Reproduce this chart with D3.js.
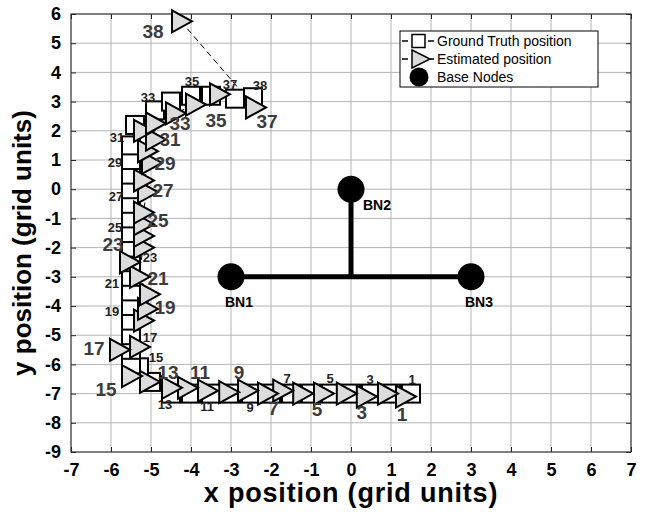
<!DOCTYPE html>
<html><head><meta charset="utf-8">
<script src="https://cdn.jsdelivr.net/npm/d3@7"></script>
<style>
html,body{margin:0;padding:0;background:#fff;}
svg{display:block;font-family:"Liberation Sans",Arial,Helvetica,sans-serif;}
</style></head>
<body>
<svg id="chart" width="646" height="515"></svg>
<script>
// ---- data ----
const pointIds = d3.range(1, 39);
const truthX = [1.5,1,0.5,0,-0.5,-1,-1.5,-2,-2.5,-3,-3.5,-4,-4.5,-5,-5.3,-5.5,-5.5,-5.5,-5.5,-5.5,-5.5,-5.5,-5.5,-5.5,-5.5,-5.5,-5.5,-5.5,-5.5,-5.5,-5.5,-5.4,-4.9,-4.5,-4,-3.5,-2.9,-2.45];
const truthY = [-7,-7,-7,-7,-7,-7,-7,-7,-7,-7,-7,-7,-7,-6.6,-6.1,-6,-5.5,-5,-4.5,-4,-3.5,-3,-2.5,-2,-1.5,-1,-0.5,0,0.5,1,1.5,2.2,2.7,3,3.2,3.2,3.1,3.15];
const estX = [1.35,0.9,0.37,-0.13,-0.7,-1.22,-1.72,-2.1,-2.6,-3.07,-3.6,-4.1,-4.5,-5.05,-5.5,-5.3,-5.8,-5.2,-5.1,-5.05,-5.3,-5.2,-5.55,-5.2,-5.2,-5.2,-5.1,-5.2,-5.0,-5.1,-4.9,-5.2,-4.9,-4.4,-3.9,-3.3,-2.4,-4.25];
const estY = [-7.1,-7.0,-7.1,-7.0,-7.0,-7.0,-6.9,-7.0,-6.9,-6.95,-6.9,-6.8,-6.8,-6.6,-6.4,-5.4,-5.5,-4.5,-4.1,-3.6,-3.0,-2.0,-2.5,-1.6,-1.2,-0.8,-0.1,0.3,0.9,1.3,1.7,2.0,2.25,2.6,2.9,3.25,2.8,5.75];
const baseNames = ["BN1","BN2","BN3"];
const baseX = [-3, 0, 3];
const baseY = [-3, 0, -3];
const xTicks = d3.range(-7, 8);
const yTicks = d3.range(-9, 7);
const labelledIds = [1,3,5,7,9,11,13,15,17,19,21,23,25,27,29,31,33,35,37,38];
const legendLabels = ["Ground Truth position","Estimated position","Base Nodes"];

// label placement (style): pixel offset of each label centre from its marker
const truthLabelOff = {1:[1,-14],3:[-1,-14],5:[-1,-15],7:[-4,-15],9:[-1,14],11:[-4,13],13:[-6,11],
  15:[17,-10],17:[19,-12],19:[-19,-9],21:[-19,-8],23:[19,-5],25:[-16,-6],27:[-15,-7],29:[-16,-12],
  31:[-14,-8],33:[-7,-13],35:[1,-14],37:[-5,-14],38:[7,-12]};
const estLabelOff = {1:[-3,18],3:[-4,16],5:[-6,16],7:[-9,17],9:[-8,-19],11:[-7,-19],13:[-3,-16],
  15:[-25,13],17:[-25,-2],19:[18,-2],21:[19,1],23:[-16,-18],25:[15,-4],27:[16,-2],29:[14,0],
  31:[15,0],33:[25,0],35:[21,16],37:[12,14],38:[-28,10]};

// ---- layout ----
const svg = d3.select("#chart");
const L = 71, R = 631, T = 14, B = 452;
const x = d3.scaleLinear().domain([-7, 7]).range([L, R]);
const y = d3.scaleLinear().domain([-9, 6]).range([B, T]);

// grid
const g = svg.append("g");
g.selectAll("line.gx").data(xTicks).join("line")
  .attr("x1", d => x(d)).attr("x2", d => x(d)).attr("y1", T).attr("y2", B)
  .attr("stroke", "#b4b4b4").attr("stroke-width", 1);
g.selectAll("line.gy").data(yTicks).join("line")
  .attr("y1", d => y(d)).attr("y2", d => y(d)).attr("x1", L).attr("x2", R)
  .attr("stroke", "#b4b4b4").attr("stroke-width", 1);

// axes
const fmt = d => d3.format("d")(d).replace("−", "-");
const xAxis = svg.append("g").attr("transform", `translate(0,${B})`)
  .call(d3.axisBottom(x).tickValues(xTicks).tickFormat(fmt).tickSizeInner(-5).tickSizeOuter(0).tickPadding(11));
const xAxisTop = svg.append("g").attr("transform", `translate(0,${T})`)
  .call(d3.axisTop(x).tickValues(xTicks).tickFormat("").tickSizeInner(-5).tickSizeOuter(0));
const yAxis = svg.append("g").attr("transform", `translate(${L},0)`)
  .call(d3.axisLeft(y).tickValues(yTicks).tickFormat(fmt).tickSizeInner(-5).tickSizeOuter(0).tickPadding(10));
const yAxisR = svg.append("g").attr("transform", `translate(${R},0)`)
  .call(d3.axisRight(y).tickValues(yTicks).tickFormat("").tickSizeInner(-5).tickSizeOuter(0));
[xAxis, xAxisTop, yAxis, yAxisR].forEach(a => {
  a.select(".domain").remove();
  a.selectAll(".tick line").attr("stroke", "#262626");
  a.selectAll("text").attr("font-family", "Liberation Sans, Arial, sans-serif")
    .attr("font-size", 18).attr("font-weight", "bold").attr("fill", "#000");
});
svg.append("rect").attr("x", L).attr("y", T).attr("width", R - L).attr("height", B - T)
  .attr("fill", "none").attr("stroke", "#262626").attr("stroke-width", 1);

// axis titles
svg.append("text").attr("x", (L + R) / 2).attr("y", 502).attr("text-anchor", "middle")
  .attr("font-size", 27).attr("letter-spacing", 0.8).attr("font-weight", "bold").text("x position (grid units)");
svg.append("text").attr("transform", `translate(31,${(T + B) / 2 + 10}) rotate(-90)`).attr("text-anchor", "middle")
  .attr("font-size", 26).attr("font-weight", "bold").text("y position (grid units)");

// base node connectors
const bx = i => x(baseX[i]), by = i => y(baseY[i]);
svg.append("line").attr("x1", bx(0)).attr("x2", bx(2)).attr("y1", by(0)).attr("y2", by(2))
  .attr("stroke", "#000").attr("stroke-width", 5);
svg.append("line").attr("x1", bx(1)).attr("x2", bx(1)).attr("y1", by(1)).attr("y2", by(0))
  .attr("stroke", "#000").attr("stroke-width", 5);
svg.selectAll("circle.bn").data(baseNames).join("circle")
  .attr("cx", (d, i) => bx(i)).attr("cy", (d, i) => by(i)).attr("r", 13.5).attr("fill", "#000");
svg.selectAll("text.bn").data(baseNames).join("text")
  .attr("x", (d, i) => bx(i) + (i === 1 ? 26 : 8)).attr("y", (d, i) => by(i) + (i === 1 ? 21 : 30))
  .attr("text-anchor", "middle").attr("font-size", 14).attr("font-weight", "bold").text(d => d);

// series paths
const truth = pointIds.map((id, i) => ({id, x: truthX[i], y: truthY[i]}));
const est = pointIds.map((id, i) => ({id, x: estX[i], y: estY[i]}));
const line = d3.line().x(d => x(d.x)).y(d => y(d.y));
svg.append("path").attr("d", line(truth)).attr("fill", "none").attr("stroke", "#000")
  .attr("stroke-width", 1).attr("stroke-dasharray", "6,4");
svg.append("path").attr("d", line(est)).attr("fill", "none").attr("stroke", "#000")
  .attr("stroke-width", 1).attr("stroke-dasharray", "6,4");

// markers
const sq = 18;
svg.selectAll("rect.gt").data(truth).join("rect")
  .attr("x", d => x(d.x) - sq / 2).attr("y", d => y(d.y) - sq / 2)
  .attr("width", sq).attr("height", sq).attr("fill", "#fff").attr("stroke", "#000").attr("stroke-width", 2);
const tri = "M-9,-11 L11,0 L-9,11 Z";
svg.selectAll("path.est").data(est).join("path")
  .attr("transform", d => `translate(${x(d.x)},${y(d.y)})`).attr("d", tri)
  .attr("fill", "#dcdcdc").attr("stroke", "#000").attr("stroke-width", 2).attr("stroke-linejoin", "miter");

// labels
svg.selectAll("text.gtl").data(truth.filter(d => labelledIds.includes(d.id))).join("text")
  .attr("x", d => x(d.x) + truthLabelOff[d.id][0])
  .attr("y", d => y(d.y) + truthLabelOff[d.id][1])
  .attr("dy", "0.36em")
  .attr("text-anchor", "middle").attr("font-size", 13).attr("font-weight", "bold").attr("fill", "#222")
  .text(d => d.id);
svg.selectAll("text.esl").data(est.filter(d => labelledIds.includes(d.id))).join("text")
  .attr("x", d => x(d.x) + estLabelOff[d.id][0])
  .attr("y", d => y(d.y) + estLabelOff[d.id][1])
  .attr("dy", "0.36em")
  .attr("text-anchor", "middle").attr("font-size", 19).attr("font-weight", "bold").attr("fill", "#3c3c3c")
  .text(d => d.id);

// legend
const lg = svg.append("g");
lg.append("rect").attr("x", 400).attr("y", 31).attr("width", 198).attr("height", 56)
  .attr("fill", "#fff").attr("stroke", "#000").attr("stroke-width", 1);
const ly = [41, 59, 77];
legendLabels.forEach((t, i) => {
  if (i < 2) {
    lg.append("line").attr("x1", 402).attr("x2", 434).attr("y1", ly[i]).attr("y2", ly[i])
      .attr("stroke", "#000").attr("stroke-width", 1.5).attr("stroke-dasharray", "6,20");
  }
  if (i === 0) lg.append("rect").attr("x", 412).attr("y", ly[i] - 6.5).attr("width", 13).attr("height", 13)
    .attr("fill", "#fff").attr("stroke", "#000").attr("stroke-width", 1.5);
  if (i === 1) lg.append("path").attr("transform", `translate(418,${ly[i]})`).attr("d", "M-6,-9 L12,0 L-6,9 Z")
    .attr("fill", "#dcdcdc").attr("stroke", "#000").attr("stroke-width", 1.5);
  if (i === 2) lg.append("circle").attr("cx", 419).attr("cy", ly[i]).attr("r", 9.5).attr("fill", "#000");
  lg.append("text").attr("x", 437).attr("y", ly[i] + 5).attr("font-size", 14).text(t);
});
</script>
</body></html>
